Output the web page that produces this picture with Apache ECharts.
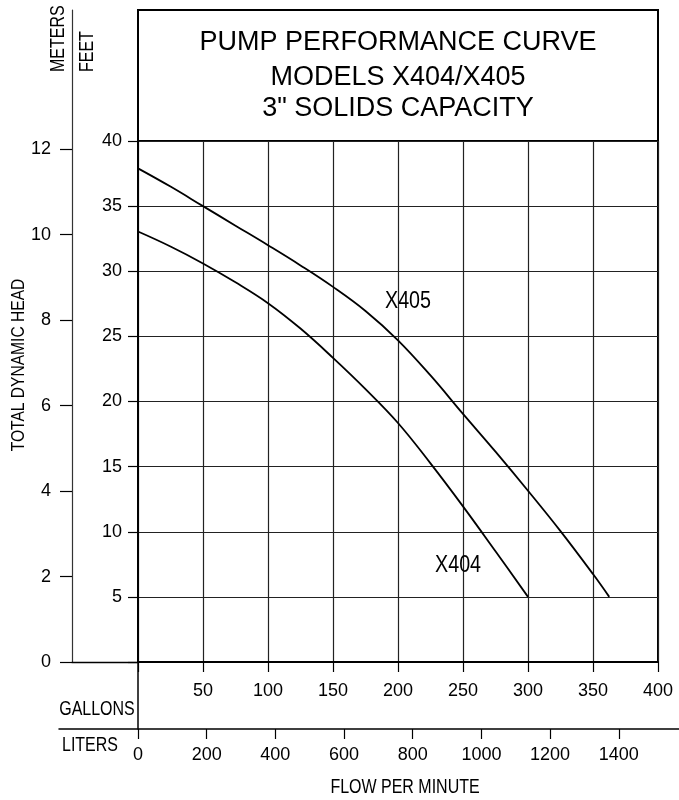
<!DOCTYPE html>
<html><head><meta charset="utf-8">
<script src="https://cdn.jsdelivr.net/npm/echarts@6/dist/echarts.min.js"></script>
<style>html,body{margin:0;padding:0;background:#fff}#c{width:679px;height:800px}</style>
</head><body><div id="c"></div>
<script>
// ---- data ----
const GALLON_TICKS = [50, 100, 150, 200, 250, 300, 350, 400];
const LITER_TICKS = [0, 200, 400, 600, 800, 1000, 1200, 1400];
const FEET_TICKS = [5, 10, 15, 20, 25, 30, 35, 40];
const METER_TICKS = [0, 2, 4, 6, 8, 10, 12];
const X405_GPM = [0, 25, 50, 75, 100, 125, 150, 175, 200, 225, 250, 275, 300, 325, 350, 362.5];
const X405_FT  = [37.9, 36.5, 35.0, 33.5, 32.0, 30.45, 28.8, 26.95, 24.7, 22.0, 19.05, 16.15, 13.15, 10.05, 6.75, 5.0];
const X404_GPM = [0, 25, 50, 75, 100, 125, 150, 175, 200, 225, 250, 275, 300];
const X404_FT  = [33.05, 31.9, 30.6, 29.15, 27.55, 25.6, 23.35, 20.95, 18.35, 15.25, 11.95, 8.5, 5.0];

// ---- constants ----
const FT_MAX = 40, GAL_MAX = 400, M_PER_FT = 0.3048, L_PER_GAL = 3.78541;
const G = { l: 138, t: 141, w: 520, h: 521 };
const MTOP = 10;
const meterMax = FT_MAX * M_PER_FT * (G.t + G.h - MTOP) / G.h;
const pxPerGal = G.w / GAL_MAX;
const LIT_L = 59, LIT_R = 679;
const litMin = -(G.l - LIT_L) / pxPerGal * L_PER_GAL;
const litMax = (LIT_R - G.l) / pxPerGal * L_PER_GAL;

const SANS = "'Liberation Sans',Arial,sans-serif";
const lab = (extra) => Object.assign({ fontFamily: SANS, fontSize: 18, color: '#000', formatter: (v) => String(v) }, extra);
const blk = (w) => ({ color: '#000', width: w });

const chart = echarts.init(document.getElementById('c'), null, { renderer: 'canvas' });
const txt = (t, x, y, size, align, extra) => Object.assign({
  type: 'text', x, y, silent: true,
  style: { text: t, fontSize: size, fontFamily: SANS, fill: '#000',
           align: align, textAlign: align, verticalAlign: 'middle', textVerticalAlign: 'middle' }
}, extra || {});
const NARROWX = 0.82;

chart.setOption({
  animation: false,
  grid: [
    { left: G.l, top: G.t, width: G.w, height: G.h, show: true, borderColor: '#000', borderWidth: 2 },
    { left: G.l, top: MTOP, width: G.w, height: G.t - MTOP, show: true, borderColor: '#000', borderWidth: 2 },
    { left: 72, top: MTOP, width: G.l - 72, height: G.t + G.h - MTOP },
    { left: LIT_L, top: G.t + G.h, width: LIT_R - LIT_L, height: 67 }
  ],
  xAxis: [
    { gridIndex: 0, type: 'value', min: 0, max: GAL_MAX, interval: 50,
      axisLine: { show: true, onZero: false, lineStyle: blk(2) },
      axisTick: { show: true, length: 10, lineStyle: blk(1.2) },
      axisLabel: lab({ customValues: GALLON_TICKS, margin: 20 }),
      splitLine: { show: true, lineStyle: { color: '#222', width: 1.2 } } },
    { gridIndex: 1, type: 'value', min: 0, max: 1, show: false },
    { gridIndex: 2, type: 'value', min: 0, max: 1,
      axisLine: { show: true, onZero: false, lineStyle: blk(1.3) },
      axisTick: { show: false }, axisLabel: { show: false }, splitLine: { show: false } },
    { gridIndex: 3, type: 'value', min: litMin, max: litMax,
      axisLine: { show: true, onZero: false, lineStyle: blk(1.5) },
      axisTick: { show: true, customValues: LITER_TICKS, length: 10, lineStyle: blk(1.2) },
      axisLabel: lab({ customValues: LITER_TICKS, margin: 17 }),
      splitLine: { show: false } }
  ],
  yAxis: [
    { gridIndex: 0, type: 'value', min: 0, max: FT_MAX, interval: 5,
      axisLine: { show: true, onZero: false, lineStyle: blk(2) },
      axisTick: { show: true, length: 10, lineStyle: blk(1.2) },
      axisLabel: lab({ customValues: FEET_TICKS, margin: 16 }),
      splitLine: { show: true, lineStyle: { color: '#222', width: 1.2 } } },
    { gridIndex: 1, type: 'value', min: 0, max: 1, show: false },
    { gridIndex: 2, type: 'value', min: 0, max: meterMax,
      axisLine: { show: true, onZero: false, lineStyle: { color: '#333', width: 1.2 } },
      axisTick: { show: true, customValues: METER_TICKS, length: 12, lineStyle: blk(1.2) },
      axisLabel: lab({ customValues: METER_TICKS, margin: 21 }),
      splitLine: { show: false } },
    { gridIndex: 3, type: 'value', min: 0, max: 1,
      axisLine: { show: true, onZero: true, lineStyle: blk(1.5) },
      axisTick: { show: false }, axisLabel: { show: false }, splitLine: { show: false } }
  ],
  series: [
    { name: 'X405', type: 'line', xAxisIndex: 0, yAxisIndex: 0, smooth: 0.4, symbol: 'none', silent: true,
      data: X405_GPM.map((g, i) => [g, X405_FT[i]]),
      lineStyle: { color: '#000', width: 1.8 } },
    { name: 'X404', type: 'line', xAxisIndex: 0, yAxisIndex: 0, smooth: 0.4, symbol: 'none', silent: true,
      data: X404_GPM.map((g, i) => [g, X404_FT[i]]),
      lineStyle: { color: '#000', width: 1.8 } }
  ]
});

// curve name labels anchored in data coordinates through the chart's own scales
const p405 = chart.convertToPixel({ gridIndex: 0 }, [207.7, 27.7]);
const p404 = chart.convertToPixel({ gridIndex: 0 }, [246.2, 7.4]);

chart.setOption({
  graphic: [
    txt('PUMP PERFORMANCE CURVE', 398, 43, 27, 'center'),
    txt('MODELS X404/X405', 398, 78, 27, 'center'),
    txt('3" SOLIDS CAPACITY', 398, 109, 27, 'center'),
    txt('GALLONS', 97, 710, 19.5, 'center', { scaleX: NARROWX }),
    txt('LITERS', 90, 746, 19.5, 'center', { scaleX: NARROWX }),
    txt('FLOW PER MINUTE', 405, 788, 19.5, 'center', { scaleX: NARROWX }),
    txt('TOTAL DYNAMIC HEAD', 18.5, 365, 19, 'center', { rotation: Math.PI / 2, scaleX: NARROWX }),
    txt('METERS', 59, 72, 19.5, 'left', { rotation: Math.PI / 2, scaleX: NARROWX }),
    txt('FEET', 88, 72, 19.5, 'left', { rotation: Math.PI / 2, scaleX: NARROWX }),
    txt('X405', p405[0], p405[1], 24, 'center', { scaleX: NARROWX }),
    txt('X404', p404[0], p404[1], 24, 'center', { scaleX: NARROWX })
  ]
});
</script></body></html>
